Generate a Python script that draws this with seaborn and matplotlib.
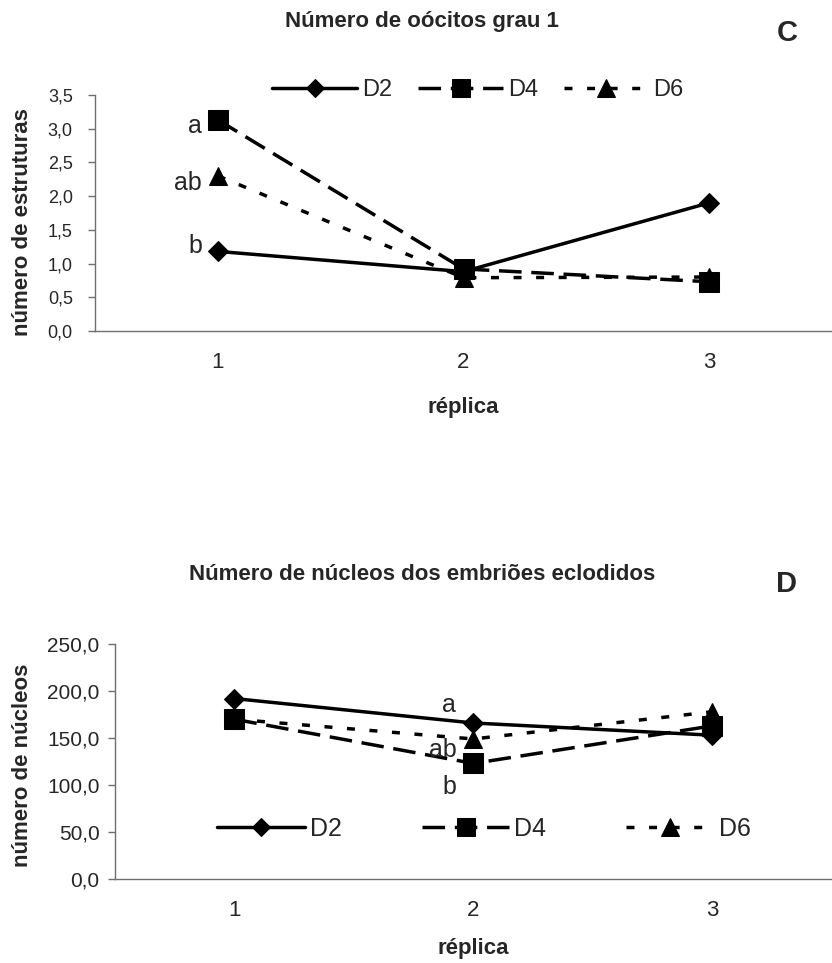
import matplotlib
matplotlib.use("Agg")
import matplotlib.pyplot as plt
import pandas as pd
import seaborn as sns

# --- data ---
replicas = [1, 2, 3]
grupos = ["D2", "D4", "D6"]

# C: número de oócitos grau 1
oocitos_d2 = [1.18, 0.88, 1.90]
oocitos_d4 = [3.13, 0.92, 0.73]
oocitos_d6 = [2.30, 0.79, 0.80]

# D: número de núcleos dos embriões eclodidos
nucleos_d2 = [192.0, 166.0, 153.0]
nucleos_d4 = [170.0, 123.0, 163.0]
nucleos_d6 = [170.0, 149.0, 178.0]

yticks_c = [0.0, 0.5, 1.0, 1.5, 2.0, 2.5, 3.0, 3.5]
ylabels_c = ["0,0", "0,5", "1,0", "1,5", "2,0", "2,5", "3,0", "3,5"]
yticks_d = [0, 50, 100, 150, 200, 250]
ylabels_d = ["0,0", "50,0", "100,0", "150,0", "200,0", "250,0"]
xlabels = ["1", "2", "3"]

# letters of significance: (grupo, réplica, letra)
letras_c = [("D4", 1, "a"), ("D6", 1, "ab"), ("D2", 1, "b")]
letras_d = [("D2", 2, "a"), ("D6", 2, "ab"), ("D4", 2, "b")]

# --- styles ---
marcadores = {"D2": "D", "D4": "s", "D6": "^"}
tam_marc = {"D2": 10, "D4": 14, "D6": 13}
tracos = {"D2": "-", "D4": (0, (6.5, 2.8)), "D6": (0, (2.3, 4.2))}
cinza = "#6e6e6e"


def make_df(d2, d4, d6):
    rows = []
    for g, vals in zip(grupos, [d2, d4, d6]):
        for r, v in zip(replicas, vals):
            rows.append({"replica": r, "valor": v, "grupo": g})
    return pd.DataFrame(rows)


def draw_panel(ax, df, yticks, ylabels, ylim, tick_fs, ypad):
    for g in grupos:
        sub = df[df["grupo"] == g]
        sns.lineplot(data=sub, x="replica", y="valor", ax=ax, color="black",
                     marker=marcadores[g], markersize=tam_marc[g],
                     markeredgecolor="black", linestyle=tracos[g],
                     linewidth=2.5, label=g, clip_on=False)
    ax.set_xlim(0.5, 3.5)
    ax.set_ylim(*ylim)
    ax.set_xticks(replicas)
    ax.set_xticklabels(xlabels, fontsize=16)
    ax.set_xticks([1.5, 2.5], minor=True)
    ax.tick_params(axis="x", which="major", length=0, pad=15)
    ax.tick_params(axis="x", which="minor", length=4, width=1, color=cinza,
                   direction="out")
    ax.set_yticks(yticks)
    ax.set_yticklabels(ylabels, fontsize=tick_fs)
    ax.tick_params(axis="y", length=5, width=1, color=cinza, direction="out",
                   pad=ypad, left=True)
    for s in ["top", "right"]:
        ax.spines[s].set_visible(False)
    for s in ["left", "bottom"]:
        ax.spines[s].set_color(cinza)
        ax.spines[s].set_linewidth(1)


def annotate(ax, df, letras, offsets, ha, fs):
    for (g, r, txt), off in zip(letras, offsets):
        v = df[(df["grupo"] == g) & (df["replica"] == r)]["valor"].iloc[0]
        ax.annotate(txt, xy=(r, v), xytext=off, textcoords="offset points",
                    ha=ha, va="baseline", fontsize=fs)


sns.set_theme(style="white")
plt.rcParams["font.family"] = ["Liberation Sans", "DejaVu Sans"]

fig = plt.figure(figsize=(8.32, 9.63), dpi=100)

# ---- panel C ----
df_c = make_df(oocitos_d2, oocitos_d4, oocitos_d6)
ax1 = fig.add_axes([0.1142, 0.6563, 0.8858, 0.2451])
draw_panel(ax1, df_c, yticks_c, ylabels_c, (0, 3.5), 13, 11)
annotate(ax1, df_c, letras_c, [(-11.5, -9.5), (-11.5, -10), (-11.5, -1.5)],
         "right", 18)
ax1.set_xlabel("réplica", fontsize=16, fontweight="bold")
ax1.xaxis.set_label_coords(0.5, -0.28)
ax1.set_ylabel("número de estruturas", fontsize=16, fontweight="bold")
ax1.yaxis.set_label_coords(-0.084, 0.46)
h, l = ax1.get_legend_handles_labels()
ax1.legend(h, l, loc="center", bbox_to_anchor=(478 / 832, 1 - 90 / 963),
           bbox_transform=fig.transFigure, ncol=3, frameon=False,
           handlelength=3.6, handletextpad=0.2, columnspacing=1.1,
           fontsize=17, markerscale=0.95)
fig.text(422 / 832, 1 - 22 / 963, "Número de oócitos grau 1", ha="center",
         va="center", fontsize=16, fontweight="bold")
fig.text(787 / 832, 1 - 33 / 963, "C", ha="center", va="center",
         fontsize=21, fontweight="bold")

# ---- panel D ----
df_d = make_df(nucleos_d2, nucleos_d4, nucleos_d6)
ax2 = fig.add_axes([0.1382, 0.0872, 0.8618, 0.2440])
draw_panel(ax2, df_d, yticks_d, ylabels_d, (0, 250), 15, 6)
annotate(ax2, df_d, letras_d, [(-18, 8), (-22, -13), (-17, -22)],
         "center", 18)
ax2.set_xlabel("réplica", fontsize=16, fontweight="bold")
ax2.xaxis.set_label_coords(0.5, -0.25)
ax2.set_ylabel("número de núcleos", fontsize=16, fontweight="bold")
ax2.yaxis.set_label_coords(-0.114, 0.485)
h, l = ax2.get_legend_handles_labels()
ax2.legend(h, l, loc="center", bbox_to_anchor=(484 / 832, 1 - 829 / 963),
           bbox_transform=fig.transFigure, ncol=3, frameon=False,
           handlelength=3.5, handletextpad=0.2, columnspacing=3.2,
           fontsize=18, markerscale=0.95)
fig.text(422 / 832, 1 - 574 / 963, "Número de núcleos dos embriões eclodidos",
         ha="center", va="center", fontsize=16, fontweight="bold")
fig.text(787 / 832, 1 - 584 / 963, "D", ha="center", va="center",
         fontsize=21, fontweight="bold")

fig.savefig("out.png", dpi=100, facecolor="white")
plt.close(fig)
